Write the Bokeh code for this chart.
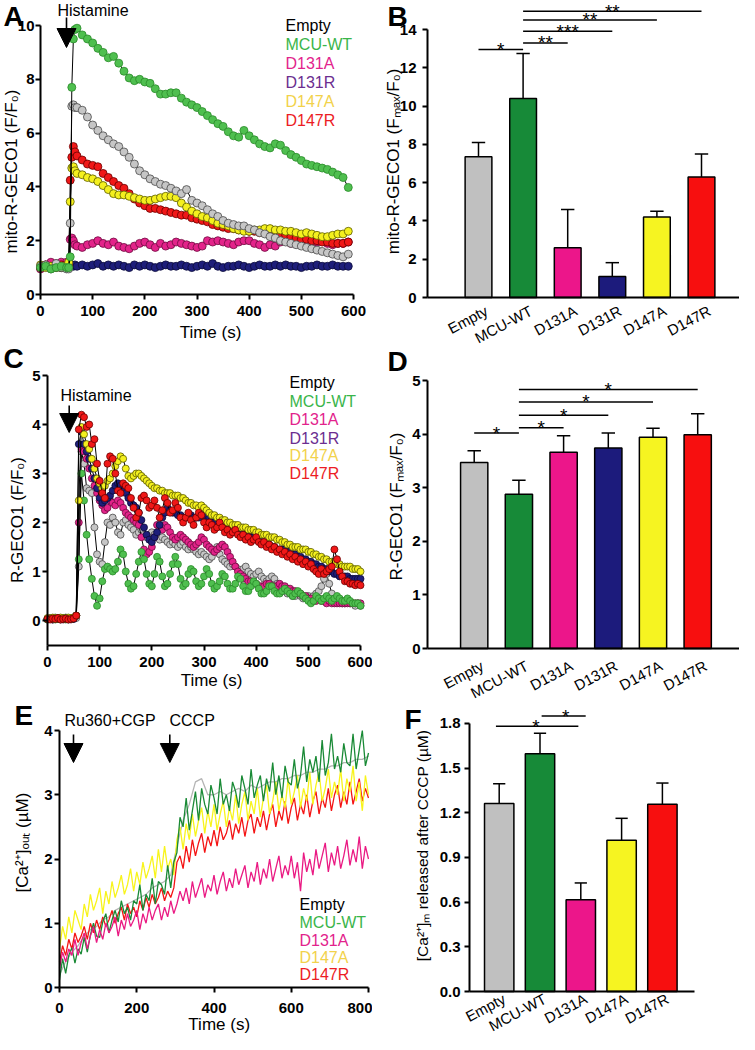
import math
from bokeh.plotting import figure
from bokeh.models import Label, Arrow, NormalHead, FixedTicker, NumeralTickFormatter, Range1d
from bokeh.layouts import row, column
from bokeh.embed import file_html
from bokeh.resources import INLINE

FONT = "Liberation Sans"

# ======================= DATA =======================
genotypes = ["Empty", "MCU-WT", "D131A", "D131R", "D147A", "D147R"]

# ---- Panel A : mito-R-GECO1 (F/F0) time courses ----
tA = [0, 10, 20, 30, 40, 50, 54, 57, 60, 63, 66] + list(range(70, 600, 10))
a_mcu = [1.0, 1.05, 0.95, 1.0, 1.05, 1.0, 1.0, 1.4, 7.7, 9.5, 9.85,
         9.9, 9.65, 9.5, 9.35, 9.15, 9.0, 8.8, 8.85, 8.6, 8.3,
         8.05, 7.95, 8.0, 7.9, 7.85, 7.65, 7.45, 7.45, 7.5, 7.5,
         7.3, 7.15, 7.05, 6.95, 6.8, 6.65, 6.5, 6.35, 6.25, 6.05,
         5.9, 5.85, 6.1, 5.9, 5.75, 5.6, 5.5, 5.45, 5.6, 5.55,
         5.35, 5.2, 5.1, 4.98, 4.85, 4.8, 4.75, 4.7, 4.65, 4.55,
         4.45, 4.35, 3.98]
a_empty = [1.05, 1.1, 0.95, 1.15, 1.0, 0.95, 0.95, 2.65, 7.0, 7.05, 6.95,
           6.95, 6.85, 6.6, 6.3, 6.1, 5.9, 5.75, 5.6, 5.5, 5.3,
           5.1, 4.85, 4.6, 4.45, 4.3, 4.2, 4.1, 4.05, 3.95, 3.85,
           3.75, 3.9, 3.5, 3.4, 3.3, 3.15, 3.0, 2.9, 2.75, 2.65,
           2.6, 2.55, 2.55, 2.45, 2.4, 2.3, 2.25, 2.15, 2.1, 2.0,
           1.95, 1.9, 1.85, 1.8, 1.75, 1.7, 1.65, 1.6, 1.55, 1.5,
           1.45, 1.4, 1.5]
a_d147r = [1.0, 1.1, 1.05, 1.0, 1.1, 1.05, 1.05, 4.25, 5.1, 5.5, 5.3,
           5.15, 5.0, 4.85, 4.8, 4.75, 4.5, 4.35, 4.2, 4.05, 3.95,
           3.75, 3.55, 3.4, 3.3, 3.2, 3.2, 3.15, 3.1, 3.05, 3.0,
           2.95, 2.95, 2.85, 2.8, 2.75, 2.7, 2.6, 2.55, 2.5, 2.45,
           2.45, 2.4, 2.4, 2.35, 2.35, 2.3, 2.3, 2.25, 2.25, 2.2,
           2.2, 2.15, 2.1, 2.05, 2.05, 2.0, 2.0, 1.95, 1.95, 1.9,
           1.9, 1.9, 1.95]
a_d147a = [1.1, 1.0, 1.05, 1.1, 1.0, 1.05, 1.2, 3.45, 4.7, 4.75, 4.6,
           4.5, 4.45, 4.35, 4.3, 4.2, 4.05, 3.9, 3.75, 3.7, 3.7,
           3.65, 3.6, 3.55, 3.5, 3.5, 3.55, 3.6, 3.65, 3.65, 3.6,
           3.4, 3.25, 3.1, 3.0, 2.9, 2.85, 2.75, 2.65, 2.6, 2.55,
           2.45, 2.4, 2.35, 2.35, 2.4, 2.4, 2.45, 2.45, 2.4, 2.4,
           2.35, 2.35, 2.3, 2.25, 2.3, 2.25, 2.2, 2.15, 2.15, 2.2,
           2.25, 2.25, 2.35]
a_d131a = [0.95, 1.1, 1.2, 1.15, 1.2, 1.2, 1.2, 2.05, 2.1, 2.0, 1.85,
           1.8, 1.75, 1.85, 1.9, 2.0, 1.9, 1.85, 1.95, 1.8, 1.75,
           1.7, 1.8, 1.9, 1.95, 1.85, 1.75, 1.9, 1.8, 1.85, 1.95,
           1.9, 1.85, 1.8, 1.75, 1.8, 2.0, 1.95, 2.0, 1.95, 1.9,
           1.85, 1.95, 2.0, 2.0, 1.9, 1.85, 1.75, 1.85, 1.8, 1.95,
           2.0, 1.9, 1.9, 1.95, 1.95, 1.9, 1.95, 2.0, 1.9, 1.85,
           1.9, 1.9, 1.95]
a_d131r = [1.0, 1.05, 1.0, 1.05, 1.0, 1.0, 1.0, 1.1, 1.1, 1.05, 1.1,
           1.05, 1.1, 1.05, 1.1, 1.15, 1.05, 1.1, 1.05, 1.1, 1.05,
           1.0, 1.1, 1.05, 1.1, 1.05, 1.0, 1.05, 1.1, 1.05, 1.05,
           1.1, 1.05, 1.0, 1.05, 1.1, 1.05, 1.15, 1.05, 1.0, 1.05,
           1.05, 1.1, 1.05, 1.0, 1.05, 1.1, 1.05, 1.05, 1.1, 1.05,
           1.1, 1.05, 1.05, 1.0, 1.05, 1.05, 1.1, 1.05, 1.05, 1.1,
           1.05, 1.05, 1.05]

# ---- Panel C : R-GECO1 (F/F0) time courses ----
tC = list(range(0, 601, 5))
c_mcu = [0.02, 0.03, 0.05, 0.02, 0.04, 0.03, 0.05, 0.02, 0.04, 0.03,
         0.05, 0.1, 1.25, 3.0, 2.45, 1.75, 1.25, 0.85, 0.5, 0.3,
         0.45, 0.8, 1.05, 1.1, 1.05, 1.0, 1.05, 1.2, 1.45, 1.35,
         1.0, 0.75, 0.65, 0.7, 0.95, 1.2, 1.4, 1.25, 0.95, 0.75,
         0.7, 0.95, 1.3, 1.2, 0.9, 0.7, 0.75, 0.95, 1.15, 1.3,
         1.15, 0.85, 0.7, 0.75, 0.95, 1.05, 1.0, 0.8, 0.7, 0.75,
         0.9, 1.05, 0.95, 0.75, 0.65, 0.7, 0.8, 0.95, 0.9, 0.75,
         0.65, 0.65, 0.75, 0.9, 0.85, 0.7, 0.6, 0.6, 0.7, 0.8,
         0.75, 0.65, 0.55, 0.55, 0.6, 0.7, 0.7, 0.6, 0.55, 0.55,
         0.6, 0.65, 0.6, 0.55, 0.5, 0.55, 0.6, 0.55, 0.5, 0.45,
         0.4, 0.35, 0.4, 0.5, 0.45, 0.4, 0.45, 0.5, 0.45, 0.4,
         0.45, 0.5, 0.45, 0.4, 0.4, 0.45, 0.4, 0.35, 0.35, 0.35,
         0.3]
c_d147r = [0.03, 0.02, 0.04, 0.03, 0.05, 0.02, 0.03, 0.04, 0.02, 0.03,
           0.04, 0.1, 3.9, 4.2, 4.15, 3.95, 4.0, 3.6, 3.7, 3.2,
           2.85, 2.6, 2.5, 3.2, 3.35, 3.3, 3.0, 2.65, 2.6, 2.8,
           2.75, 2.7, 2.5, 2.3, 2.1, 2.2, 2.5, 2.55, 2.45, 2.3,
           2.35, 2.45, 2.3, 2.1, 2.25, 2.5, 2.4, 2.2, 2.25, 2.4,
           2.3, 2.1, 2.0, 2.1, 2.2, 2.05, 1.95, 2.1, 2.2, 2.15,
           2.0, 1.9, 2.0, 1.95, 1.85, 1.9, 2.0, 1.9, 1.8, 1.85,
           1.75, 1.8, 1.85, 1.75, 1.7, 1.75, 1.65, 1.7, 1.6, 1.65,
           1.7, 1.6, 1.55, 1.6, 1.5, 1.55, 1.45, 1.5, 1.4, 1.45,
           1.35, 1.4, 1.3, 1.35, 1.25, 1.3, 1.2, 1.25, 1.15, 1.2,
           1.1, 1.15, 1.05, 1.0, 0.95, 1.05, 0.95, 1.0, 1.05, 1.1,
           1.45, 1.25, 1.0, 0.9, 0.8, 0.8, 0.75, 0.75, 0.72, 0.75,
           0.72]
c_d147a = [0.05, 0.04, 0.06, 0.05, 0.04, 0.06, 0.05, 0.04, 0.06, 0.05,
           0.06, 0.1, 2.45, 3.95, 3.8, 3.6, 3.5, 3.3, 3.1, 2.9,
           2.8, 2.7, 2.75, 2.85, 2.9, 3.0, 3.15, 3.25, 3.35, 3.3,
           3.1, 2.95, 2.9, 2.95, 3.0, 3.0, 2.95, 2.9, 2.85, 2.8,
           2.75, 2.7, 2.7, 2.65, 2.65, 2.6, 2.6, 2.6, 2.55, 2.55,
           2.55, 2.5, 2.5, 2.45, 2.4, 2.4, 2.35, 2.35, 2.3, 2.35,
           2.3, 2.25, 2.2, 2.15, 2.15, 2.1, 2.1, 2.05, 2.05, 2.0,
           2.0, 1.95, 1.95, 1.95, 1.9, 1.9, 1.9, 1.85, 1.85, 1.85,
           1.8, 1.8, 1.75, 1.75, 1.75, 1.7, 1.7, 1.7, 1.65, 1.65,
           1.6, 1.6, 1.55, 1.55, 1.5, 1.5, 1.5, 1.45, 1.45, 1.45,
           1.4, 1.4, 1.35, 1.35, 1.3, 1.3, 1.25, 1.25, 1.2, 1.2,
           1.2, 1.15, 1.15, 1.1, 1.1, 1.1, 1.1, 1.05, 1.05, 1.05,
           1.0]
c_d131r = [0.02, 0.03, 0.02, 0.04, 0.03, 0.02, 0.03, 0.04, 0.02, 0.03,
           0.03, 0.1, 3.6, 3.85, 3.6, 3.45, 3.3, 3.1, 2.9, 2.7,
           2.5, 2.4, 2.45, 2.5, 2.55, 2.65, 2.75, 2.8, 2.75, 2.7,
           2.6, 2.5, 2.4, 2.35, 2.3, 2.2, 2.05, 1.9, 1.75, 1.65,
           1.6, 1.7, 1.8, 1.95, 2.1, 2.2, 2.3, 2.25, 2.2, 2.2,
           2.15, 2.15, 2.1, 2.1, 2.15, 2.15, 2.1, 2.1, 2.1, 2.15,
           2.15, 2.15, 2.1, 2.05, 2.0, 2.0, 1.95, 1.95, 1.95, 1.9,
           1.9, 1.9, 1.85, 1.85, 1.8, 1.8, 1.75, 1.75, 1.7, 1.7,
           1.65, 1.65, 1.6, 1.6, 1.55, 1.55, 1.5, 1.5, 1.45, 1.45,
           1.45, 1.45, 1.4, 1.4, 1.35, 1.35, 1.3, 1.3, 1.25, 1.25,
           1.2, 1.2, 1.15, 1.15, 1.1, 1.1, 1.05, 1.05, 1.0, 1.0,
           0.95, 0.95, 0.9, 0.9, 0.9, 0.9, 0.85, 0.85, 0.85, 0.85,
           0.85]
c_d131a = [0.03, 0.04, 0.02, 0.03, 0.05, 0.03, 0.02, 0.04, 0.03, 0.02,
           0.04, 0.1, 2.0, 3.5, 3.45, 3.3, 3.1, 2.9, 2.75, 2.6,
           2.45, 2.35, 2.25, 2.3, 2.45, 2.4, 2.35, 2.45, 2.4, 2.3,
           2.2, 2.15, 2.1, 2.05, 2.0, 1.95, 1.7, 1.45, 1.35, 1.4,
           1.5, 1.7, 1.95, 1.9, 1.85, 1.95, 1.9, 1.8, 1.7, 1.65,
           1.7, 1.75, 1.7, 1.65, 1.6, 1.55, 1.5, 1.55, 1.6, 1.7,
           1.65, 1.55, 1.5, 1.45, 1.4, 1.45, 1.5, 1.55, 1.5, 1.4,
           1.3, 1.2, 1.1, 1.0, 0.95, 0.9, 0.85, 0.8, 0.8, 0.75,
           0.75, 0.7, 0.7, 0.7, 0.75, 0.75, 0.7, 0.7, 0.7, 0.75,
           0.7, 0.7, 0.65, 0.65, 0.6, 0.6, 0.55, 0.55, 0.5, 0.5,
           0.45, 0.45, 0.4, 0.4, 0.45, 0.4, 0.4, 0.35, 0.4, 0.35,
           0.35, 0.35, 0.35, 0.35, 0.35, 0.35, 0.35, 0.35, 0.35, 0.35,
           0.35]
c_empty = [0.04, 0.05, 0.03, 0.06, 0.04, 0.05, 0.03, 0.06, 0.05, 0.04,
           0.06, 0.05, 1.1, 3.45, 3.2, 2.7, 2.65, 2.6, 1.9, 1.35,
           1.2, 1.15, 1.6, 2.0, 1.95, 2.1, 2.0, 1.8, 1.75, 2.0,
           2.05, 1.95, 1.9, 1.85, 1.75, 1.8, 1.85, 1.75, 1.7, 1.75,
           1.8, 1.75, 1.7, 1.65, 1.7, 1.65, 1.6, 1.55, 1.6, 1.55,
           1.5, 1.55, 1.6, 1.5, 1.45, 1.5, 1.45, 1.4, 1.35, 1.4,
           1.35, 1.3, 1.25, 1.3, 1.4, 1.5, 1.35, 1.25, 1.2, 1.15,
           1.1, 1.15, 1.1, 1.05, 1.0, 1.05, 1.1, 1.0, 0.95, 0.9,
           0.95, 1.0, 0.9, 0.85, 0.8, 0.85, 0.9, 0.85, 0.75, 0.7,
           0.65, 0.6, 0.55, 0.55, 0.5, 0.5, 0.55, 0.5, 0.45, 0.45,
           0.5, 0.45, 0.5, 0.55, 0.6, 0.7, 0.85, 0.95, 0.75, 0.55,
           0.45, 0.4, 0.4, 0.35, 0.35, 0.4, 0.35, 0.35, 0.3, 0.35,
           0.3]

# ---- Panel E : [Ca2+]out (uM) traces ----
tE = list(range(0, 801, 8))
e_mcu = [0.12, 0.45, 0.22, 0.5, 0.62, 0.38, 0.6, 0.52, 0.78, 0.55,
         0.82, 1.0, 0.8, 0.78, 1.02, 1.15, 0.85, 1.05, 1.2, 1.02,
         1.35, 1.15, 1.25, 1.05, 1.35, 1.3, 1.6, 1.2, 1.45, 1.35,
         1.7, 1.3, 1.65, 1.6, 1.45, 1.9, 1.55, 1.95, 2.1, 2.65,
         2.5, 2.95, 2.45, 2.75, 3.05, 2.6, 3.1, 2.85, 2.7, 3.15,
         2.95, 2.7, 3.25, 2.85, 3.0, 2.75, 3.2, 3.05, 2.8, 3.3,
         3.1, 2.85, 3.4, 2.95, 3.15, 3.3, 2.9, 3.25, 3.05, 3.5,
         3.0, 3.3, 2.95, 3.45, 3.2, 3.15, 3.55, 3.1, 3.3, 3.75,
         3.2, 3.55, 3.35, 3.6, 3.2, 3.85, 3.3, 3.5, 3.95, 3.4,
         3.6, 3.35, 3.8, 3.5, 3.45, 3.95, 3.4, 3.7, 4.0, 3.45,
         3.65]
e_d147a = [0.6, 0.95, 0.75, 1.1, 0.85, 1.2, 1.05, 0.9, 1.3, 1.1,
           1.45, 1.2, 1.35, 1.55, 1.15, 1.5, 1.3, 1.65, 1.4, 1.55,
           1.75, 1.45, 1.6, 1.85, 1.5, 1.8, 1.6, 1.95, 1.7, 1.85,
           2.05, 1.7, 2.15, 1.8, 2.2, 1.85, 2.0, 1.75, 2.3, 2.5,
           2.15, 2.55, 2.3, 2.7, 2.35, 2.6, 2.8, 2.4, 2.75, 2.5,
           2.85, 2.45, 2.7, 2.9, 2.5, 2.8, 2.6, 3.0, 2.55, 2.85,
           3.05, 2.6, 2.9, 2.7, 3.1, 2.65, 2.95, 3.15, 2.7, 2.9,
           3.2, 2.75, 3.0, 2.8, 3.25, 2.85, 3.05, 3.3, 2.8, 3.1,
           2.9, 3.35, 2.85, 3.15, 3.35, 2.9, 3.1, 3.4, 2.95, 3.2,
           3.0, 3.4, 2.9, 3.25, 3.05, 3.45, 2.9, 3.2, 2.75, 3.3,
           3.0]
e_d147r = [0.4, 0.65, 0.5, 0.75, 0.6, 0.85, 0.7, 0.8, 0.95, 0.75,
           1.0, 0.85, 1.05, 0.9, 1.1, 0.95, 1.05, 1.2, 1.0, 1.15,
           1.25, 1.05, 1.3, 1.15, 1.25, 1.1, 1.35, 1.2, 1.4, 1.25,
           1.45, 1.3, 1.4, 1.55, 1.35, 1.5, 1.4, 1.55, 1.95, 2.05,
           1.85, 2.2, 1.95, 2.3, 2.05, 2.25, 2.4, 2.1, 2.35, 2.2,
           2.45, 2.2, 2.5, 2.3, 2.4, 2.6, 2.3, 2.55, 2.4, 2.65,
           2.35, 2.6, 2.7, 2.4, 2.65, 2.5, 2.75, 2.45, 2.7, 2.85,
           2.5, 2.75, 2.6, 2.9, 2.55, 2.8, 2.95, 2.6, 2.85, 2.7,
           3.0, 2.65, 2.9, 3.05, 2.7, 2.95, 2.8, 3.1, 2.75, 3.0,
           3.15, 2.8, 3.05, 2.85, 3.2, 2.85, 3.05, 3.25, 2.9, 3.1,
           2.95]
e_d131a = [0.3, 0.55, 0.4, 0.6, 0.5, 0.75, 0.5, 0.7, 0.85, 0.6,
           0.8, 0.95, 0.7, 0.9, 0.75, 1.0, 0.85, 0.95, 1.1, 0.8,
           1.05, 0.9, 1.15, 0.95, 1.05, 1.2, 0.9, 1.15, 1.0, 1.25,
           1.05, 1.2, 1.3, 1.05, 1.25, 1.1, 1.35, 1.15, 1.3, 1.5,
           1.35, 1.55, 1.3, 1.65, 1.4, 1.55, 1.7, 1.4, 1.6, 1.5,
           1.75, 1.45, 1.65, 1.8, 1.5, 1.7, 1.55, 1.85, 1.6, 1.75,
           1.9, 1.55, 1.8, 1.65, 1.95, 1.6, 1.85, 1.7, 2.0, 1.65,
           1.85, 2.05, 1.7, 1.9, 1.75, 2.05, 1.7, 1.95, 1.5, 2.1,
           1.8, 2.0, 1.75, 2.15, 1.85, 2.05, 2.25, 1.8, 2.1, 1.9,
           2.2, 1.85, 2.05, 2.3, 1.9, 2.15, 1.95, 2.35, 1.85, 2.2,
           2.0]
tE_empty = list(range(0, 801, 16))
e_empty = [0.2, 0.4, 0.55, 0.65, 0.8, 0.9, 0.95, 1.05, 1.1, 1.2,
           1.25, 1.3, 1.35, 1.4, 1.45, 1.55, 1.6, 1.65, 1.75, 2.2,
           2.6, 2.85, 3.2, 3.25, 3.0, 3.0, 3.05, 3.0, 3.05, 3.1,
           3.05, 3.15, 3.1, 3.15, 3.2, 3.2, 3.25, 3.25, 3.3, 3.3,
           3.35, 3.35, 3.4, 3.4, 3.45, 3.45, 3.5, 3.5, 3.55, 3.55,
           3.6]

# ---- Panel B : mito-R-GECO1 (Fmax/F0) ----
b_mean = [7.35, 10.4, 2.6, 1.1, 4.2, 6.3]
b_err = [0.75, 2.35, 2.0, 0.72, 0.3, 1.2]
b_sig_from = [0, 1, 1, 1, 1]
b_sig_to = [1, 2, 3, 4, 5]
b_sig_y = [12.96, 13.3, 13.91, 14.5, 14.95]
b_sig_txt = ["*", "**", "***", "**", "**"]

# ---- Panel D : R-GECO1 (Fmax/F0) ----
d_mean = [3.47, 2.88, 3.66, 3.74, 3.94, 3.99]
d_err = [0.22, 0.26, 0.31, 0.28, 0.17, 0.39]
d_sig_from = [0, 1, 1, 1, 1]
d_sig_to = [1, 2, 3, 4, 5]
d_sig_y = [4.02, 4.12, 4.35, 4.6, 4.83]
d_sig_txt = ["*", "*", "*", "*", "*"]

# ---- Panel F : [Ca2+]m released after CCCP ----
f_cats = ["Empty", "MCU-WT", "D131A", "D147A", "D147R"]
f_mean = [1.263, 1.597, 0.617, 1.015, 1.257]
f_err = [0.132, 0.138, 0.112, 0.148, 0.143]
f_sig_from = [-0.08, 1.04]
f_sig_to = [1.94, 2.12]
f_sig_y = [1.782, 1.85]
f_sig_xtxt = [0.9, 1.63]
f_sig_txt = ["*", "*"]

for t, series in ((tA, [a_mcu, a_empty, a_d147r, a_d147a, a_d131a, a_d131r]),
                  (tC, [c_mcu, c_d147r, c_d147a, c_d131r, c_d131a, c_empty]),
                  (tE, [e_mcu, e_d147a, e_d147r, e_d131a]),
                  (tE_empty, [e_empty])):
    for s in series:
        assert len(s) == len(t), (len(s), len(t))

# ======================= STYLE =======================
legend_color = {"Empty": "#000000", "MCU-WT": "#3ab54a", "D131A": "#e2238c",
                "D131R": "#6b2e90", "D147A": "#f2d24b", "D147R": "#ec1c24"}
marker_fill = {"Empty": "#c6c6c6", "MCU-WT": "#4fbf4f", "D131A": "#e3238a",
               "D131R": "#1e1e7a", "D147A": "#f4f01e", "D147R": "#f01818"}
marker_edge = {"Empty": "#4a4a4a", "MCU-WT": "#2a8a2a", "D131A": "#6e0c40",
               "D131R": "#0b0b3a", "D147A": "#5a5a00", "D147R": "#6a0000"}
bar_color = {"Empty": "#c0c0c0", "MCU-WT": "#178a38", "D131A": "#ec168a",
             "D131R": "#1c1b7c", "D147A": "#f6f421", "D147R": "#f70f0f"}
trace_color = {"Empty": "#b4b4b4", "MCU-WT": "#1a8a36", "D131A": "#ea1a83",
               "D147A": "#f8f41c", "D147R": "#f41414"}


class Panel:
    """One figure whose plotting frame fills its whole box; axes sit at fixed data locations."""

    def __init__(self, box, xref, yref, sx, sy):
        bl, bt, br, bb = box
        self.xv, self.xp = xref
        self.yv, self.yp = yref
        self.sx, self.sy = sx, sy
        p = figure(width=br - bl, height=bb - bt,
                   min_border_left=0, min_border_right=0, min_border_top=0, min_border_bottom=0,
                   x_range=Range1d(self.X(bl), self.X(br)),
                   y_range=Range1d(self.Y(bb), self.Y(bt)),
                   output_backend="svg", toolbar_location=None, title="")
        p.title.visible = False
        p.outline_line_color = None
        p.grid.visible = False
        p.background_fill_color = "white"
        p.border_fill_color = "white"
        for ax in (p.xaxis[0], p.yaxis[0]):
            ax.axis_line_width = 2
            ax.axis_line_color = "black"
            ax.major_tick_line_width = 2
            ax.major_tick_line_color = "black"
            ax.major_tick_in = 0
            ax.major_tick_out = 5
            ax.minor_tick_line_color = None
            ax.major_label_text_font = FONT
            ax.major_label_text_font_size = "15px"
            ax.major_label_text_font_style = "bold"
            ax.major_label_text_color = "black"
        self.p = p

    def X(self, px):
        return self.xv + (px - self.xp) / self.sx

    def Y(self, py):
        return self.yv + (self.yp - py) / self.sy

    def axes(self, xloc, xbounds, xticks, yloc, ybounds, yticks):
        xa, ya = self.p.xaxis[0], self.p.yaxis[0]
        xa.fixed_location = xloc
        xa.bounds = xbounds
        ya.fixed_location = yloc
        ya.bounds = ybounds
        xa.ticker = FixedTicker(ticks=xticks)
        ya.ticker = FixedTicker(ticks=yticks)

    def text(self, rx, ry, s, size=16, color="black", bold=False, align="left", angle=0.0):
        self.p.add_layout(Label(x=self.X(rx), y=self.Y(ry), text=s, text_font=FONT,
                                text_font_size=f"{size}px", text_color=color,
                                text_font_style="bold" if bold else "normal",
                                text_align=align, text_baseline="middle", angle=angle))

    def arrow(self, rx, ry0, ry1):
        self.p.add_layout(Arrow(end=NormalHead(size=19, fill_color="black", line_color="black"),
                                x_start=self.X(rx), y_start=self.Y(ry0),
                                x_end=self.X(rx), y_end=self.Y(ry1),
                                line_color="black", line_width=1.6))


def scatter_trace(p, t, v, name, size):
    p.line(t, v, line_color="black", line_width=1)
    p.scatter(t, v, size=size, fill_color=marker_fill[name], line_color=marker_edge[name], line_width=0.8)


def bar_panel(pan, cats, mean, err, width, cap, sig_from, sig_to, sig_y, sig_txt,
              axis_px, label_dx, label_dy, sig_xtxt=None, label_size=16):
    p = pan.p
    xs = list(range(len(cats)))
    p.vbar(x=xs, top=mean, bottom=0, width=width, fill_color=[bar_color[c] for c in cats],
           line_color="black", line_width=1.5)
    tops = [m + e for m, e in zip(mean, err)]
    p.segment(x0=xs, y0=mean, x1=xs, y1=tops, line_color="black", line_width=1.5)
    p.segment(x0=[x - cap / 2 for x in xs], y0=tops, x1=[x + cap / 2 for x in xs], y1=tops,
              line_color="black", line_width=1.5)
    p.segment(x0=sig_from, y0=sig_y, x1=sig_to, y1=sig_y, line_color="black", line_width=1.5)
    if sig_xtxt is None:
        sig_xtxt = [(a + b) / 2 for a, b in zip(sig_from, sig_to)]
    for x, y, s in zip(sig_xtxt, sig_y, sig_txt):
        p.add_layout(Label(x=x, y=y, text=s, text_font=FONT, text_font_size="19px",
                           text_align="center", text_baseline="middle", text_color="black"))
    # rotated category names under each bar
    for x, c in zip(xs, cats):
        px = pan.xp + (x - pan.xv) * pan.sx
        p.add_layout(Label(x=pan.X(px + label_dx), y=pan.Y(axis_px + label_dy), text=c,
                           text_font=FONT, text_font_size=f"{label_size}px", text_color="black",
                           text_align="right", text_baseline="middle", angle=0.49))


# ======================= PANEL A =======================
pA = Panel((8, 8, 380, 350), (0, 48), (0, 302), 313 / 600, 26.9)
for name, v in (("D131R", a_d131r), ("D131A", a_d131a), ("D147R", a_d147r),
                ("D147A", a_d147a), ("Empty", a_empty), ("MCU-WT", a_mcu)):
    scatter_trace(pA.p, tA, v, name, 8)
pA.axes(0, (0, 600), [0, 100, 200, 300, 400, 500, 600], 0, (0, 10), [0, 2, 4, 6, 8, 10])
pA.p.xaxis.major_label_standoff = 6
pA.p.yaxis.major_label_standoff = 1
pA.text(11, 23.5, "A", size=28, bold=True)
pA.text(65, 18, "Histamine", size=16)
pA.arrow(74, 25, 55)
for name, y in zip(genotypes, [32.5, 51.5, 71, 90, 109, 128]):
    pA.text(293, y, name, size=16, color=legend_color[name])
pA.text(18.5, 179, "mito-R-GECO1 (F/F\u2080)", size=17, align="center", angle=math.pi / 2)
pA.text(218, 340, "Time (s)", size=17, align="center")

# ======================= PANEL C =======================
pC = Panel((8, 350, 380, 700), (0, 55), (0, 628), 313 / 600, 49)
for name, v in (("Empty", c_empty), ("D131A", c_d131a), ("D131R", c_d131r),
                ("MCU-WT", c_mcu), ("D147A", c_d147a), ("D147R", c_d147r)):
    scatter_trace(pC.p, tC, v, name, 7)
pC.axes(-0.5, (0, 600), [0, 100, 200, 300, 400, 500, 600], 0, (-0.5, 5), [0, 1, 2, 3, 4, 5])
pC.p.xaxis.major_label_standoff = 7
pC.p.yaxis.major_label_standoff = 2
pC.text(11, 366, "C", size=28, bold=True)
pC.text(68, 402.5, "Histamine", size=16)
pC.arrow(76.7, 413, 440)
for name, y in zip(genotypes, [390, 409, 427.3, 445.7, 463.3, 480.7]):
    pC.text(297, y, name, size=16, color=legend_color[name])
pC.text(25, 527.5, "R-GECO1 (F/F\u2080)", size=17, align="center", angle=math.pi / 2)
pC.text(219, 688, "Time (s)", size=17, align="center")

# ======================= PANEL E =======================
pE = Panel((8, 700, 380, 1042), (0, 67), (0, 995), 309 / 800, 64.25)
pE.p.line(tE_empty, e_empty, line_color=trace_color["Empty"], line_width=1.3)
for name, v in (("D147R", e_d147r), ("D147A", e_d147a), ("MCU-WT", e_mcu), ("D131A", e_d131a)):
    pE.p.line(tE, v, line_color=trace_color[name], line_width=1.3)
pE.axes(0, (0, 800), [0, 200, 400, 600, 800], 0, (0, 4), [0, 1, 2, 3, 4])
pE.p.xaxis.major_label_standoff = 10
pE.p.yaxis.major_label_standoff = 2
pE.text(22, 723, "E", size=28, bold=True)
pE.text(72, 728, "Ru360+CGP", size=16)
pE.text(177, 728, "CCCP", size=16)
pE.arrow(81, 742, 770)
pE.arrow(177.3, 742, 770)
for name, y in zip(["Empty", "MCU-WT", "D131A", "D147A", "D147R"], [911.7, 930, 948.3, 965, 981.7]):
    pE.text(307, y, name, size=16, color=legend_color[name])
pE.text(30, 850, "[Ca\u00b2\u207a]\u2092\u1d64\u209c (\u00b5M)", size=17, align="center", angle=math.pi / 2)
pE.text(226.7, 1032, "Time (s)", size=17, align="center")

# ======================= PANEL B =======================
pB = Panel((380, 8, 747, 353), (0, 486), (0, 305), 44.6, 19.14)
bar_panel(pB, genotypes, b_mean, b_err, 0.6, 0.3, b_sig_from, b_sig_to, b_sig_y, b_sig_txt,
          axis_px=305, label_dx=8, label_dy=12, label_size=15)
pB.axes(0, (pB.X(435), pB.X(747)), [], pB.X(435), (0, 14), [0, 2, 4, 6, 8, 10, 12, 14])
pB.p.yaxis.major_label_standoff = 6
pB.text(395, 23.5, "B", size=28, bold=True)
pB.text(401, 169, "mito-R-GECO1 (F\u2098\u2090\u2093/F\u2080)", size=17, align="center", angle=math.pi / 2)

# ======================= PANEL D =======================
pD = Panel((380, 353, 747, 711), (0, 481.7), (0, 656), 44.7, 53.6)
bar_panel(pD, genotypes, d_mean, d_err, 0.61, 0.3, d_sig_from, d_sig_to, d_sig_y, d_sig_txt,
          axis_px=656, label_dx=8, label_dy=16, label_size=15)
pD.axes(0, (pD.X(435), pD.X(747)), [], pD.X(435), (0, 5), [0, 1, 2, 3, 4, 5])
pD.p.yaxis.major_label_standoff = 2
pD.text(395, 369, "D", size=28, bold=True)
pD.text(403.5, 514, "R-GECO1 (F\u2098\u2090\u2093/F\u2080)", size=17, align="center", angle=math.pi / 2)

# ======================= PANEL F =======================
pF = Panel((380, 711, 747, 1042), (0, 506.7), (0, 999), 40.8, 148.9)
bar_panel(pF, f_cats, f_mean, f_err, 0.72, 0.3, f_sig_from, f_sig_to, f_sig_y, f_sig_txt,
          axis_px=999, label_dx=5, label_dy=6, sig_xtxt=f_sig_xtxt, label_size=15)
pF.axes(0, (pF.X(477), pF.X(702)), [], pF.X(477), (0, 1.8), [0.0, 0.3, 0.6, 0.9, 1.2, 1.5, 1.8])
pF.p.yaxis.formatter = NumeralTickFormatter(format="0.0")
pF.p.yaxis.major_label_standoff = 4
pF.text(412, 727, "F", size=28, bold=True)
pF.text(430, 853, "[Ca\u00b2\u207a]\u2098 released after CCCP (\u00b5M)", size=15.5, align="center", angle=math.pi / 2)

layout = row(column(pA.p, pC.p, pE.p), column(pB.p, pD.p, pF.p))
open("out.html", "w").write(file_html(layout, INLINE, title="MCU mutants"))
